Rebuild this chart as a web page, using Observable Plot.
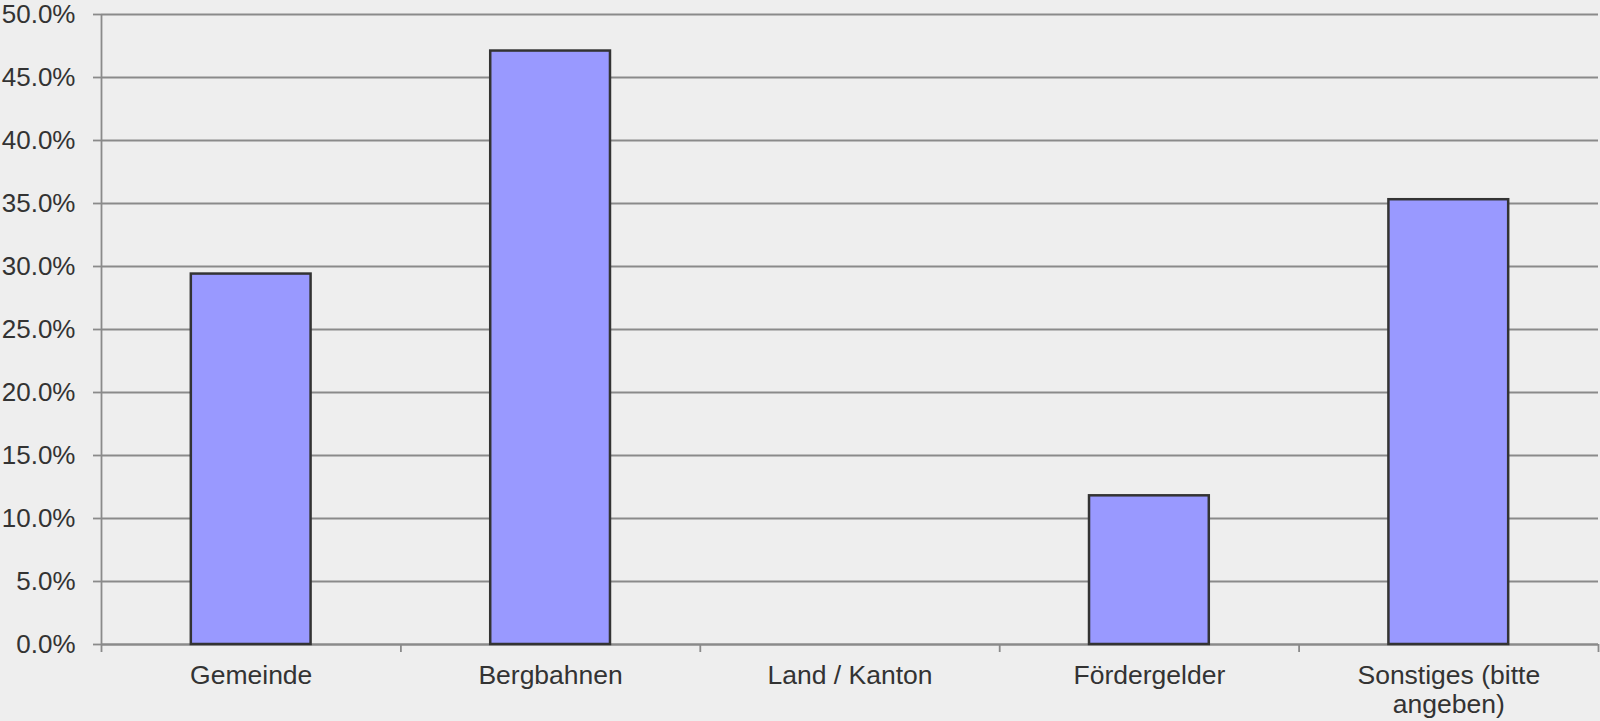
<!DOCTYPE html>
<html>
<head>
<meta charset="utf-8">
<script src="https://cdn.jsdelivr.net/npm/d3@7"></script>
<script src="https://cdn.jsdelivr.net/npm/@observablehq/plot@0.6"></script>
<style>
  html, body { margin: 0; padding: 0; background: #eeeeee; }
  #chart svg { display: block; }
</style>
</head>
<body>
<div id="chart"></div>
<script>
const categories = ["Gemeinde", "Bergbahnen", "Land / Kanton", "Fördergelder", "Sonstiges (bitte\nangeben)"];
const values = [29.4, 47.1, 0, 11.8, 35.3];
const yTicks = [0, 5, 10, 15, 20, 25, 30, 35, 40, 45, 50];

const data = categories.map((c, i) => ({i, category: c, value: values[i]}));
const boundaries = d3.range(categories.length + 1);

const gray = "#8a8a8a";
const ink = "#333333";

const chart = Plot.plot({
  width: 1600,
  height: 721,
  marginLeft: 101,
  marginRight: 2,
  marginTop: 14,
  marginBottom: 77,
  style: {background: "#eeeeee", fontFamily: "'Liberation Sans', Arial, sans-serif", fontSize: "26px", color: ink},
  x: {domain: [0, categories.length], axis: null},
  y: {domain: [0, 50], axis: null},
  marks: [
    Plot.gridY(yTicks, {stroke: gray, strokeOpacity: 1, strokeWidth: 1.8}),
    Plot.axisY({ticks: yTicks, tickSize: 8, tickPadding: 18, stroke: gray, strokeWidth: 1.8, tickFormat: d => d3.format(".1f")(d) + "%", fontSize: 26, fill: ink, label: null}),
    Plot.ruleX([0], {stroke: gray, strokeWidth: 1.8}),
    Plot.ruleY([0], {stroke: gray, strokeWidth: 1.8}),
    Plot.axisX({ticks: boundaries, tickSize: 8, tickFormat: () => "", stroke: gray, strokeWidth: 1.8, label: null}),
    Plot.rectY(data, {x1: d => d.i + 0.3, x2: d => d.i + 0.7, y1: 0, y2: "value", fill: "#9999ff", stroke: "#333333", strokeWidth: 2.5}),
    Plot.text(data, {x: d => d.i + 0.5, y: 0, text: "category", lineAnchor: "top", dy: 19, lineHeight: 1.1, fontSize: 26.5, fill: ink})
  ]
});
document.getElementById("chart").appendChild(chart);
</script>
</body>
</html>
